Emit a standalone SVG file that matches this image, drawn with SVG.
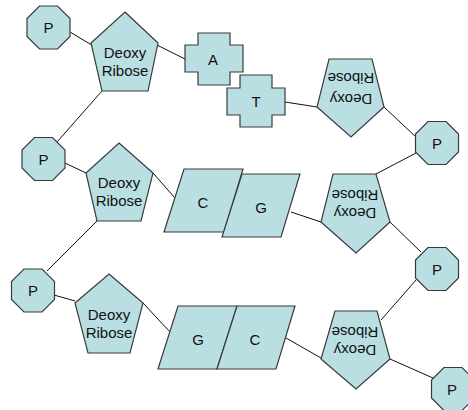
<svg xmlns="http://www.w3.org/2000/svg" xmlns:xlink="http://www.w3.org/1999/xlink" width="468" height="410" viewBox="0 0 468 410">
<style>
.s{fill:#B9DFE3;stroke:#3a3a3a;stroke-width:1.2}
.t{font-family:"Liberation Sans",Arial,sans-serif;font-size:15px;fill:#111;text-anchor:middle}
.c line{stroke:#111;stroke-width:1}
</style>
<defs>
<polygon id="oct" points="-9,-21.5 9,-21.5 21.5,-9 21.5,9 9,21.5 -9,21.5 -21.5,9 -21.5,-9"/>
</defs>
<rect width="468" height="410" fill="#fff"/>
<g id="connectors" class="c">
<line x1="70" y1="32" x2="95" y2="47"/>
<line x1="153" y1="43" x2="185" y2="59"/>
<line x1="102" y1="91" x2="57" y2="142"/>
<line x1="285" y1="102" x2="317" y2="107"/>
<line x1="384" y1="107" x2="417" y2="138"/>
<line x1="416" y1="153" x2="376" y2="174"/>
<line x1="153" y1="173" x2="175" y2="198"/>
<line x1="65" y1="163" x2="86" y2="173"/>
<line x1="291" y1="212" x2="321" y2="222"/>
<line x1="97" y1="221" x2="47" y2="271"/>
<line x1="390" y1="222" x2="421" y2="252"/>
<line x1="54" y1="295" x2="75" y2="301"/>
<line x1="143" y1="303" x2="170" y2="332"/>
<line x1="286" y1="338" x2="321" y2="358"/>
<line x1="381" y1="320" x2="416" y2="280"/>
<line x1="390" y1="359" x2="433" y2="378"/>
</g>
<g id="p1"><use xlink:href="#oct" href="#oct" class="s" transform="translate(48.5,27.5)"/><text class="t" x="48.5" y="33">P</text></g>
<g id="p2"><use xlink:href="#oct" href="#oct" class="s" transform="translate(43.5,159)"/><text class="t" x="43.5" y="164.5">P</text></g>
<g id="p3"><use xlink:href="#oct" href="#oct" class="s" transform="translate(33,290.5)"/><text class="t" x="33" y="296">P</text></g>
<g id="p4"><use xlink:href="#oct" href="#oct" class="s" transform="translate(437,143)"/><text class="t" x="437" y="148.5">P</text></g>
<g id="p5"><use xlink:href="#oct" href="#oct" class="s" transform="translate(437,269)"/><text class="t" x="437" y="274.5">P</text></g>
<g id="p6"><use xlink:href="#oct" href="#oct" class="s" transform="translate(453,389)"/><text class="t" x="452" y="394.5">P</text></g>
<g id="dr1"><polygon class="s" points="125,12 158,43 148,91 102,91 91,43"/><text class="t" x="125" y="57.5">Deoxy</text><text class="t" x="125" y="75.5">Ribose</text></g>
<g id="dr2"><polygon class="s" points="119,143 153,173 141,221 97,221 86,173"/><text class="t" x="119" y="187.5">Deoxy</text><text class="t" x="119" y="206">Ribose</text></g>
<g id="dr3"><polygon class="s" points="109,274 143,303 130,353 88,353 75,303"/><text class="t" x="109" y="319.5">Deoxy</text><text class="t" x="109" y="337.5">Ribose</text></g>
<g id="dr4"><polygon class="s" points="329,59 372,59 384,107 351,137 317,107"/><g transform="rotate(180 351 88.5)"><text class="t" x="351" y="83">Deoxy</text><text class="t" x="351" y="104">Ribose</text></g></g>
<g id="dr5"><polygon class="s" points="333,174 376,174 390,222 356,253 321,222"/><g transform="rotate(180 355 204)"><text class="t" x="355" y="200.5">Deoxy</text><text class="t" x="355" y="218.5">Ribose</text></g></g>
<g id="dr6"><polygon class="s" points="335,311 377,311 390,359 356,389 321,359"/><g transform="rotate(180 355 341.5)"><text class="t" x="355" y="338">Deoxy</text><text class="t" x="355" y="356.5">Ribose</text></g></g>
<g id="a"><path class="s" d="M198,33 H230 V45 H243 V72 H230 V85 H198 V72 H185 V45 H198 Z"/><text class="t" x="213" y="65">A</text></g>
<g id="t"><path class="s" d="M240,75 H272 V88 H285 V115 H272 V127 H240 V115 H227 V88 H240 Z"/><text class="t" x="256" y="107">T</text></g>
<g id="c1"><polygon class="s" points="184,169 243,169 224,232 164,232"/><text class="t" x="203" y="207.5">C</text></g>
<g id="g1"><polygon class="s" points="242,174 300,174 281,237 222,237"/><text class="t" x="261" y="212.5">G</text></g>
<g id="g2"><polygon class="s" points="178,306 237,306 217,369 158,369"/><text class="t" x="198" y="344.5">G</text></g>
<g id="c2"><polygon class="s" points="237,306 295,306 276,369 217,369"/><text class="t" x="255" y="344.5">C</text></g>
</svg>
